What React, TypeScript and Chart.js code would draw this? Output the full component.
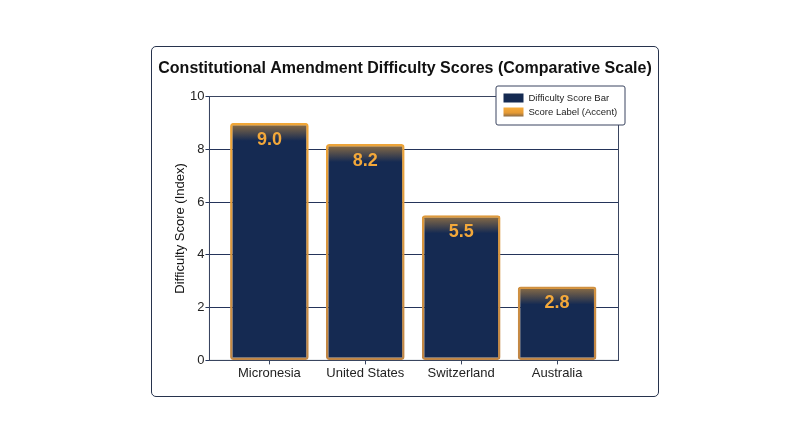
import React, { useEffect, useRef } from 'react';
import { Chart, registerables } from 'chart.js';

Chart.register(...registerables);

const categories = ['Micronesia', 'United States', 'Switzerland', 'Australia'];
const scores = [9.0, 8.2, 5.5, 2.8];
const yTicks = [0, 2, 4, 6, 8, 10];
const legendLabels = ['Difficulty Score Bar', 'Score Label (Accent)'];
const chartTitle = 'Constitutional Amendment Difficulty Scores (Comparative Scale)';

const NAVY = '#152a52';
const ORANGE = '#f3a83a';
const FRAME = '#3a4560';
const FONT = "Arial, 'Liberation Sans', Helvetica, sans-serif";

// title (drawn here so Chart.js doesn't squeeze it to the padded box width),
// frame around the plot, bar top glow, value labels and the boxed legend
const decorPlugin = {
  id: 'decor',
  beforeDatasetsDraw(chart: any) {
    const { ctx, chartArea: a, width } = chart;
    ctx.save();
    ctx.strokeStyle = FRAME;
    ctx.lineWidth = 1;
    ctx.strokeRect(a.left, a.top, a.right - a.left, a.bottom - a.top);

    ctx.fillStyle = '#111111';
    ctx.font = `bold 16px ${FONT}`;
    ctx.textAlign = 'center';
    ctx.textBaseline = 'middle';
    ctx.fillText(chartTitle, width / 2, 22);
    ctx.restore();
  },
  afterDatasetsDraw(chart: any) {
    const { ctx, chartArea: a } = chart;
    const meta = chart.getDatasetMeta(0);
    ctx.save();
    meta.data.forEach((bar: any, i: number) => {
      const half = bar.width / 2 - 2;
      const top = bar.y + 2;
      const g = ctx.createLinearGradient(0, top, 0, top + 16);
      g.addColorStop(0, 'rgba(243,168,58,0.5)');
      g.addColorStop(1, 'rgba(243,168,58,0)');
      ctx.fillStyle = g;
      ctx.fillRect(bar.x - half, top, half * 2, 16);

      ctx.fillStyle = ORANGE;
      ctx.font = `bold 18px ${FONT}`;
      ctx.textAlign = 'center';
      ctx.textBaseline = 'middle';
      ctx.fillText(scores[i].toFixed(1), bar.x, bar.y + 17);
    });

    // legend
    const bx = a.right - 123;
    const by = a.top - 11;
    const bw = 129;
    const bh = 39;
    ctx.fillStyle = '#ffffff';
    ctx.strokeStyle = FRAME;
    ctx.lineWidth = 1;
    ctx.beginPath();
    ctx.roundRect(bx + 0.5, by + 0.5, bw, bh, 2);
    ctx.fill();
    ctx.stroke();

    const rows = [by + 12.5, by + 26.5];
    ctx.fillStyle = NAVY;
    ctx.fillRect(bx + 8, rows[0] - 4.5, 20, 9);
    const sg = ctx.createLinearGradient(0, rows[1] - 4.5, 0, rows[1] + 4.5);
    sg.addColorStop(0, '#f6ab3a');
    sg.addColorStop(0.6, '#e59a35');
    sg.addColorStop(1, '#8a6a45');
    ctx.fillStyle = sg;
    ctx.fillRect(bx + 8, rows[1] - 4.5, 20, 9);

    ctx.fillStyle = '#222222';
    ctx.font = `9.5px ${FONT}`;
    ctx.textAlign = 'left';
    ctx.textBaseline = 'middle';
    legendLabels.forEach((t, i) => ctx.fillText(t, bx + 33, rows[i]));
    ctx.restore();
  },
};

const ScoreChart: React.FC = () => {
  const canvasRef = useRef<HTMLCanvasElement>(null);

  useEffect(() => {
    if (!canvasRef.current) return;
    const chart = new Chart(canvasRef.current, {
      type: 'bar',
      data: {
        datasets: [
          {
            data: scores.map((v, i) => ({ x: i, y: v })),
            backgroundColor: NAVY,
            borderColor: (c: any) => {
              const a = c.chart.chartArea;
              if (!a) return ORANGE;
              const g = c.chart.ctx.createLinearGradient(0, a.top, 0, a.bottom);
              g.addColorStop(0, '#f6aa36');
              g.addColorStop(1, '#c08646');
              return g;
            },
            borderWidth: 2.5,
            borderRadius: 3,
            borderSkipped: false,
            barPercentage: 0.82,
            categoryPercentage: 1,
          },
        ],
      },
      options: {
        animation: false,
        responsive: true,
        maintainAspectRatio: false,
        layout: { padding: { top: 49.5, left: 22, right: 39.5, bottom: 14 } },
        plugins: {
          legend: { display: false },
          tooltip: { enabled: false },
          title: { display: false },
        },
        scales: {
          x: {
            type: 'linear',
            offset: false,
            min: -0.625,
            max: 3.64,
            afterBuildTicks: (s: any) => {
              s.ticks = categories.map((_, i) => ({ value: i }));
            },
            ticks: {
              autoSkip: false,
              maxRotation: 0,
              padding: 1,
              color: '#222222',
              font: { family: FONT, size: 13 },
              callback: (v: any) => categories[v] ?? '',
            },
            grid: { offset: false, drawOnChartArea: false, tickLength: 4, color: FRAME },
            border: { color: FRAME, width: 1 },
          },
          y: {
            min: 0,
            max: 10,
            afterBuildTicks: (s: any) => {
              s.ticks = yTicks.map((v) => ({ value: v }));
            },
            ticks: {
              padding: 1,
              color: '#222222',
              font: { family: FONT, size: 13 },
            },
            grid: { color: '#24345a', lineWidth: 1, tickLength: 4 },
            border: { color: FRAME, width: 1 },
            title: {
              display: true,
              text: 'Difficulty Score (Index)',
              color: '#111111',
              font: { family: FONT, size: 13, lineHeight: 1 },
              padding: { top: 0, bottom: 2 },
            },
          },
        },
      },
      plugins: [decorPlugin],
    });
    return () => chart.destroy();
  }, []);

  return (
    <div
      style={{
        position: 'absolute',
        left: 151,
        top: 46,
        width: 508,
        height: 351,
        boxSizing: 'border-box',
        border: '1.5px solid #27334d',
        borderRadius: 5,
        background: '#ffffff',
      }}
    >
      <div style={{ position: 'relative', width: '100%', height: '100%' }}>
        <canvas ref={canvasRef} />
      </div>
    </div>
  );
};

export default function App() {
  return <ScoreChart />;
}
